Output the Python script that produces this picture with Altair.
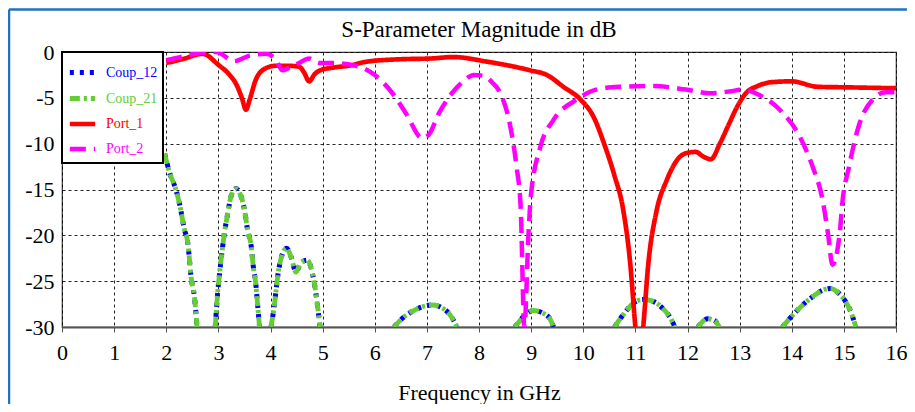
import altair as alt
import pandas as pd

# ---------------- data ----------------
series_names = ["Coup_12", "Coup_21", "Port_1", "Port_2"]
series_colors = ["#0000ff", "#66cc33", "#ff0000", "#ff00ff"]

port1_freq = [2.0, 2.3, 2.7, 3.0, 3.2, 3.35, 3.45, 3.53, 3.6, 3.72, 3.9, 4.1, 4.3,
              4.55, 4.65, 4.74, 4.85, 4.95, 5.2, 5.5, 5.85, 6.45, 7.1, 7.5, 8.15,
              8.98, 9.3, 9.62, 9.95, 10.2, 10.4, 10.6, 10.76, 10.9, 11.0, 11.07,
              11.15, 11.25, 11.4, 11.6, 11.86, 12.0, 12.16, 12.3, 12.45, 12.62,
              12.8, 12.95, 13.12, 13.35, 13.6, 14.0, 14.5, 15.0, 15.5, 16.0]
port1_db = [-1.2, -0.8, -0.2, -1.4, -2.4, -3.6, -5.0, -6.3, -5.2, -3.0, -1.8, -1.5,
            -1.5, -1.6, -2.3, -3.2, -2.4, -2.0, -1.7, -1.5, -1.05, -0.8, -0.7,
            -0.55, -1.05, -2.0, -2.5, -3.8, -5.2, -7.1, -10.0, -13.5, -17.0,
            -23.0, -30.0, -34.0, -30.0, -23.0, -17.5, -14.0, -11.4, -11.0, -10.9,
            -11.4, -11.7, -10.0, -7.8, -6.0, -4.5, -3.7, -3.3, -3.2, -3.8, -3.85,
            -3.9, -3.95]

port2_freq = [2.0, 2.3, 2.64, 2.96, 3.3, 3.6, 3.91, 4.1, 4.23, 4.4, 4.55, 4.74,
              4.93, 5.18, 5.7, 6.02, 6.34, 6.6, 6.91, 7.04, 7.23, 7.48, 7.7, 7.9,
              8.09, 8.25, 8.41, 8.6, 8.72, 8.8, 8.87, 8.95, 8.99, 9.18, 9.43, 9.87,
              10.25, 10.7, 11.34, 11.97, 12.43, 12.81, 13.06, 13.38, 13.77, 14.15,
              14.4, 14.59, 14.7, 14.78, 14.92, 14.97, 15.1, 15.3, 15.55, 15.8, 16.0]
port2_db = [-0.9, -0.5, -0.1, 0.0, -1.0, -0.4, -0.2, -0.8, -2.0, -1.6, -1.2, -0.7,
            -1.2, -1.2, -1.6, -2.6, -4.5, -6.7, -9.4, -9.0, -6.7, -4.5, -3.2, -2.5,
            -2.6, -3.3, -4.5, -8.1, -12.5, -17.0, -30.0, -19.8, -16.0, -10.3, -7.4,
            -5.2, -4.1, -3.8, -3.7, -4.1, -4.5, -4.3, -4.1, -4.7, -6.3, -9.2,
            -12.5, -16.1, -20.0, -23.2, -19.8, -16.5, -12.5, -7.8, -5.2, -4.4, -4.4]

# coupling (Coup_12 and Coup_21 coincide); visible lobes above -30 dB
coup_freq = [
    [1.97, 2.06, 2.19, 2.26, 2.35, 2.41, 2.48, 2.54, 2.59],
    [2.94, 2.98, 3.03, 3.12, 3.18, 3.24, 3.34, 3.42, 3.5, 3.56, 3.63, 3.67, 3.72, 3.75, 3.79],
    [4.01, 4.07, 4.15, 4.23, 4.31, 4.39, 4.49, 4.58, 4.71, 4.77, 4.84, 4.9, 4.95],
    [6.37, 6.52, 6.72, 6.91, 7.1, 7.29, 7.42, 7.58],
    [8.69, 8.85, 9.04, 9.23, 9.36, 9.43],
    [10.6, 10.76, 10.96, 11.15, 11.34, 11.53, 11.66, 11.76],
    [12.2, 12.39, 12.52, 12.61],
    [13.82, 14.02, 14.21, 14.4, 14.59, 14.74, 14.9, 15.03, 15.13, 15.23],
]
coup_db = [
    [-11.1, -13.1, -15.1, -16.7, -19.4, -20.7, -24.7, -26.7, -30.0],
    [-30.0, -26.7, -23.8, -19.6, -17.6, -15.8, -14.9, -15.5, -17.2, -19.4, -21.2, -23.4, -25.4, -27.4, -30.0],
    [-30.0, -27.8, -24.0, -22.0, -21.4, -22.3, -24.0, -23.0, -22.7, -23.4, -25.2, -27.6, -30.0],
    [-30.0, -29.1, -28.3, -27.8, -27.6, -27.9, -28.5, -30.0],
    [-30.0, -28.9, -28.2, -28.5, -29.1, -30.0],
    [-30.0, -28.7, -27.4, -27.0, -27.2, -28.0, -28.9, -30.0],
    [-30.0, -29.1, -29.3, -30.0],
    [-30.0, -28.7, -27.6, -26.7, -26.0, -25.8, -26.3, -27.2, -28.3, -30.0],
]

x_ticks = list(range(0, 17))
y_ticks = [-30, -25, -20, -15, -10, -5, 0]

# ---------------- table ----------------
rows = []
for name in ["Coup_12", "Coup_21"]:
    for i, (fs, ds) in enumerate(zip(coup_freq, coup_db)):
        for f, d in zip(fs, ds):
            rows.append({"series": name, "freq": f, "db": d, "seg": f"{name}_{i}"})
for f, d in zip(port1_freq, port1_db):
    rows.append({"series": "Port_1", "freq": f, "db": d, "seg": "Port_1"})
for f, d in zip(port2_freq, port2_db):
    rows.append({"series": "Port_2", "freq": f, "db": d, "seg": "Port_2"})
df = pd.DataFrame(rows)

FONT = "Liberation Serif, DejaVu Serif, serif"
W, H = 834, 275
PAD = {"left": 54, "top": 44, "right": 11, "bottom": 77}

label_color_expr = ("datum.label == 'Coup_12' ? '#0000ff' : datum.label == 'Coup_21' ? '#66cc33' : "
                    "datum.label == 'Port_1' ? '#ff0000' : '#ff00ff'")

lines = alt.Chart(df).mark_line(interpolate="monotone", clip=True).encode(
    x=alt.X("freq:Q", scale=alt.Scale(domain=[0, 16], nice=False),
            axis=alt.Axis(values=x_ticks, title="Frequency in GHz", labelExpr="datum.value + ''",
                          labelFont=FONT, labelFontSize=22, titleFont=FONT, titleFontSize=22)),
    y=alt.Y("db:Q", scale=alt.Scale(domain=[-30, 0], nice=False),
            axis=alt.Axis(values=y_ticks, title=None, labelExpr="datum.value + ''",
                          labelFont=FONT, labelFontSize=22)),
    color=alt.Color("series:N", scale=alt.Scale(domain=series_names, range=series_colors),
                    legend=alt.Legend(title=None, orient="none", legendX=0, legendY=0,
                                      labelColor=alt.ExprRef(label_color_expr))),
    strokeDash=alt.StrokeDash("series:N",
                              scale=alt.Scale(domain=series_names,
                                              range=[[4, 6], [10, 4, 3, 4], [1, 0], [16, 8]]),
                              legend=alt.Legend(title=None)),
    strokeWidth=alt.StrokeWidth("series:N",
                                scale=alt.Scale(domain=series_names, range=[5, 4.5, 5, 7]),
                                legend=alt.Legend(title=None)),
    detail="seg:N",
    order=alt.Order("freq:Q"),
)

# decorative blue outer frame (left and top edges only)
one = pd.DataFrame({"a": [0]})
frame_top = alt.Chart(one).mark_rule(stroke="#1f74c1", strokeWidth=2.5).encode(
    x=alt.value(-53), x2=alt.value(W + PAD["right"]), y=alt.value(-42.5))
frame_left = alt.Chart(one).mark_rule(stroke="#1f74c1", strokeWidth=2.5).encode(
    x=alt.value(-53), y=alt.value(-42.5), y2=alt.value(H + PAD["bottom"]))

chart = alt.layer(lines, frame_top, frame_left).properties(
    width=W, height=H,
    title=alt.TitleParams("S-Parameter Magnitude in dB", font=FONT, fontSize=23,
                          fontWeight="normal", color="#000000", anchor="middle",
                          offset=0, dy=34, frame="group"),
    autosize=alt.AutoSizeParams(type="none"),
    padding=PAD,
).configure_view(stroke="#333333", strokeWidth=1.2).configure_axis(
    labelFont=FONT, labelFontSize=22, labelColor="#000000",
    titleFont=FONT, titleFontSize=22, titleFontWeight="normal", titleColor="#000000",
    grid=True, gridColor="#000000", gridDash=[3, 3], gridWidth=1, gridOpacity=0.85,
    domainColor="#555555",
).configure_axisX(
    tickSize=5, tickColor="#555555", labelPadding=10, titlePadding=19, domainWidth=2,
    labelFlush=False,
).configure_axisY(
    tickSize=0, labelPadding=8, domain=False,
).configure_legend(
    labelFont=FONT, labelFontSize=14, symbolType="stroke", symbolSize=640,
    strokeColor="#000000", strokeWidth=2, fillColor="#ffffff", padding=5,
    rowPadding=0, labelOffset=8, symbolStrokeWidth=5, labelLimit=200,
)

chart.save("out.html", embed_options={"renderer": "svg", "actions": False})
